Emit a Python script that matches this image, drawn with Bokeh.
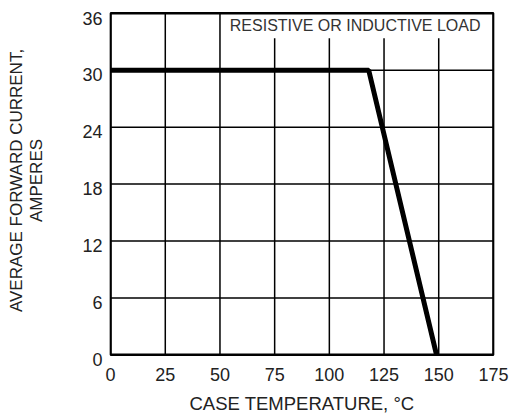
from bokeh.plotting import figure
from bokeh.models import Range1d, FixedTicker, LinearAxis
from bokeh.models import Label
from bokeh.embed import file_html
from bokeh.resources import INLINE

# Data
temp_c = [0, 118, 149]
current_a = [30, 30, 0]
x_ticks = [0, 25, 50, 75, 100, 125, 150, 175]
y_ticks = [0, 6, 12, 18, 24, 30, 36]
note_text = "RESISTIVE OR INDUCTIVE LOAD"
x_title = "CASE TEMPERATURE, °C"
y_title = "AVERAGE FORWARD CURRENT,\nAMPERES"

FONT = "Liberation Sans"
TXT = "#222222"
X_MIN, X_MAX = 0, 175
Y_MIN, Y_MAX = 0, 36
Y_LO, Y_HI = Y_MIN - 0.6, Y_MAX + 1.35   # visible range, a little wider than the drawn box
LABEL_SHIFT = 0.5  # y tick labels sit slightly below their gridlines

p = figure(width=510, height=416, output_backend="svg", toolbar_location=None,
           x_range=Range1d(X_MIN - 0.5, X_MAX + 0.5), y_range=Range1d(Y_LO, Y_HI),
           y_axis_location=None,
           min_border_left=109, min_border_right=16, min_border_top=0, min_border_bottom=56)
p.outline_line_color = None
p.xgrid.visible = False
p.ygrid.visible = False

# shifted range used only for placing the y tick labels
p.extra_y_ranges = {"lab": Range1d(Y_LO + LABEL_SHIFT, Y_HI + LABEL_SHIFT)}
yax = LinearAxis(y_range_name="lab", ticker=FixedTicker(ticks=y_ticks))
p.add_layout(yax, "left")

p.xaxis.ticker = FixedTicker(ticks=x_ticks)
xax = p.xaxis[0]
for ax in (xax, yax):
    ax.axis_line_color = None
    ax.major_tick_line_color = None
    ax.minor_tick_line_color = None
    ax.major_tick_out = 0
    ax.major_tick_in = 0
    ax.minor_tick_out = 0
    ax.minor_tick_in = 0
    ax.major_label_text_font = FONT
    ax.major_label_text_font_size = "18px"
    ax.major_label_text_color = TXT
    ax.axis_label_text_font = FONT
    ax.axis_label_text_font_style = "normal"
    ax.axis_label_text_color = TXT

xax.major_label_standoff = 7
xax.axis_label = x_title
xax.axis_label_text_font_size = "18.5px"
xax.axis_label_standoff = 9

yax.major_label_standoff = 7
yax.axis_label = y_title
yax.axis_label_text_font_size = "17px"
yax.axis_label_text_line_height = 1.08
yax.axis_label_standoff = 33

# grid lines
gx = x_ticks[1:-1]
gy = y_ticks[1:-1]
p.segment(x0=gx, x1=gx, y0=[Y_MIN] * len(gx), y1=[Y_MAX] * len(gx), line_color="black", line_width=1.5)
p.segment(x0=[X_MIN] * len(gy), x1=[X_MAX] * len(gy), y0=gy, y1=gy, line_color="black", line_width=1.5)

# white box behind the note
p.quad(left=[52.2], right=[X_MAX], bottom=[33.36], top=[Y_MAX], fill_color="white", line_color=None)
p.add_layout(Label(x=111.8, y=34.7, text=note_text, text_align="center", text_baseline="middle",
                   text_font=FONT, text_font_size="16px", text_color="#333333"))

# plot frame
p.quad(left=[X_MIN], right=[X_MAX], bottom=[Y_MIN], top=[Y_MAX], fill_color=None,
       line_color="black", line_width=2.5)

p.line(temp_c, current_a, line_color="black", line_width=5)

open("out.html", "w").write(file_html(p, INLINE))
